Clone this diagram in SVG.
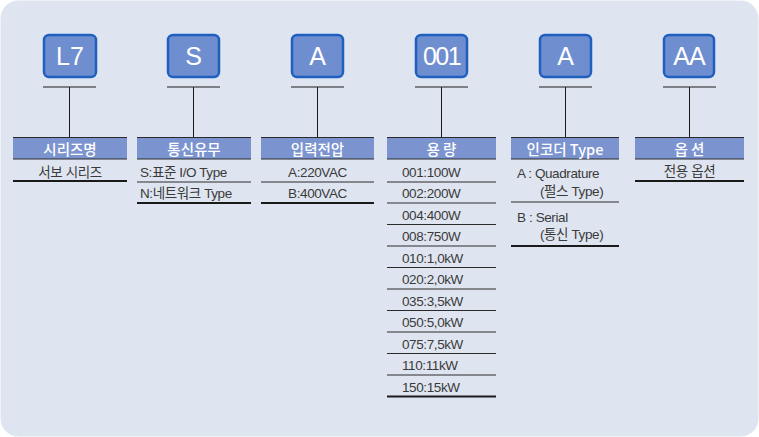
<svg xmlns="http://www.w3.org/2000/svg" width="759" height="437" viewBox="0 0 759 437">
<style>
.box{fill:#6f8ed0;stroke:#1f5fbf;stroke-width:2.5}
.code{font-family:"Liberation Sans",Arial,sans-serif;font-size:25px;fill:#fff;text-anchor:middle}
.hdr{fill:#7b94d0}
.hl{stroke:#2a2a2a;stroke-width:1}
.ht{font-family:"Noto Sans CJK KR","Liberation Sans",sans-serif;font-size:14.5px;font-weight:500;fill:#fff;text-anchor:middle}
.it{font-family:"Liberation Sans","Noto Sans CJK KR",sans-serif;font-size:13.5px;fill:#3a3a3a;letter-spacing:-0.4px}
.c{text-anchor:middle}
.thin{stroke:#2a2a2a;stroke-width:1}
.thick{stroke:#1a1a1a;stroke-width:2}
.con{stroke:#1a1a1a;stroke-width:1;fill:none}
</style>
<rect x="0.5" y="0.5" width="758" height="436" rx="18" fill="#dfe5f0"/>
<g id="connectors">
<path class="con" d="M43 87H96M69.5 87V137"/>
<path class="con" d="M167 87H220M193.5 87V137"/>
<path class="con" d="M291 87H344M317.5 87V137"/>
<path class="con" d="M415 87H468M441.5 87V137"/>
<path class="con" d="M539 87H592M565.5 87V137"/>
<path class="con" d="M663 87H716M689.5 87V137"/>
</g>
<g id="n1">
<rect class="box" x="44" y="35" width="52" height="42" rx="5"/>
<text class="code" x="70" y="64.5">L7</text>
<rect class="hdr" x="13" y="137" width="114" height="22"/>
<path class="hl" d="M13 137.5H127M13 159H127"/>
<text class="ht" x="70" y="155">시리즈명</text>
<text class="it c" x="70" y="176.5">서보 시리즈</text>
<path class="thick" d="M13 181H127"/>
</g>
<g id="n2">
<rect class="box" x="168" y="35" width="51" height="42" rx="5"/>
<text class="code" x="193.5" y="64.5">S</text>
<rect class="hdr" x="137" y="137" width="114" height="22"/>
<path class="hl" d="M137 137.5H251M137 159H251"/>
<text class="ht" x="194" y="155">통신유무</text>
<text class="it" x="140" y="176.5">S:표준 I/O Type</text>
<path class="thin" d="M137 182H251"/>
<text class="it" x="140" y="197.5">N:네트워크 Type</text>
<path class="thick" d="M137 203H251"/>
</g>
<g id="n3">
<rect class="box" x="292" y="35" width="51" height="42" rx="5"/>
<text class="code" x="317.5" y="64.5">A</text>
<rect class="hdr" x="261" y="137" width="113" height="22"/>
<path class="hl" d="M261 137.5H374M261 159H374"/>
<text class="ht" x="317.5" y="155">입력전압</text>
<text class="it c" x="317.5" y="176.5">A:220VAC</text>
<path class="thin" d="M261 182H374"/>
<text class="it c" x="317.5" y="197.5">B:400VAC</text>
<path class="thick" d="M261 203H374"/>
</g>
<g id="n4">
<rect class="box" x="416" y="35" width="51" height="42" rx="5"/>
<text class="code" x="441.5" y="64.5" letter-spacing="-1.5">001</text>
<rect class="hdr" x="387" y="137" width="109" height="22"/>
<path class="hl" d="M387 137.5H496M387 159H496"/>
<text class="ht" x="441.5" y="155">용 량</text>
<text class="it" x="402" y="176.5">001:100W</text>
<path class="thin" d="M387 182H496"/>
<text class="it" x="402" y="198">002:200W</text>
<path class="thin" d="M387 203H496"/>
<text class="it" x="402" y="219.5">004:400W</text>
<path class="thin" d="M387 224.5H496"/>
<text class="it" x="402" y="241">008:750W</text>
<path class="thin" d="M387 246H496"/>
<text class="it" x="402" y="262.5">010:1,0kW</text>
<path class="thin" d="M387 267.5H496"/>
<text class="it" x="402" y="284">020:2,0kW</text>
<path class="thin" d="M387 289H496"/>
<text class="it" x="402" y="305.5">035:3,5kW</text>
<path class="thin" d="M387 310.5H496"/>
<text class="it" x="402" y="327">050:5,0kW</text>
<path class="thin" d="M387 332H496"/>
<text class="it" x="402" y="348.5">075:7,5kW</text>
<path class="thin" d="M387 353.5H496"/>
<text class="it" x="402" y="370">110:11kW</text>
<path class="thin" d="M387 375H496"/>
<text class="it" x="402" y="391.5">150:15kW</text>
<path class="thick" d="M387 396.5H496"/>
</g>
<g id="n5">
<rect class="box" x="540" y="35" width="51" height="42" rx="5"/>
<text class="code" x="565.5" y="64.5">A</text>
<rect class="hdr" x="511" y="137" width="108" height="22"/>
<path class="hl" d="M511 137.5H619M511 159H619"/>
<text class="ht" x="565" y="155">인코더 Type</text>
<text class="it" x="517" y="178">A : Quadrature</text>
<text class="it" x="540" y="195.5">(펄스 Type)</text>
<path class="thin" d="M511 202H619"/>
<text class="it" x="517" y="221.5">B : Serial</text>
<text class="it" x="540" y="239">(통신 Type)</text>
<path class="thick" d="M511 246H619"/>
</g>
<g id="n6">
<rect class="box" x="664" y="35" width="50" height="42" rx="5"/>
<text class="code" x="689" y="64.5" letter-spacing="-1">AA</text>
<rect class="hdr" x="635" y="137" width="109" height="22"/>
<path class="hl" d="M635 137.5H744M635 159H744"/>
<text class="ht" x="689.5" y="155">옵 션</text>
<text class="it c" x="689.5" y="176">전용 옵션</text>
<path class="thick" d="M635 181H744"/>
</g>
</svg>
